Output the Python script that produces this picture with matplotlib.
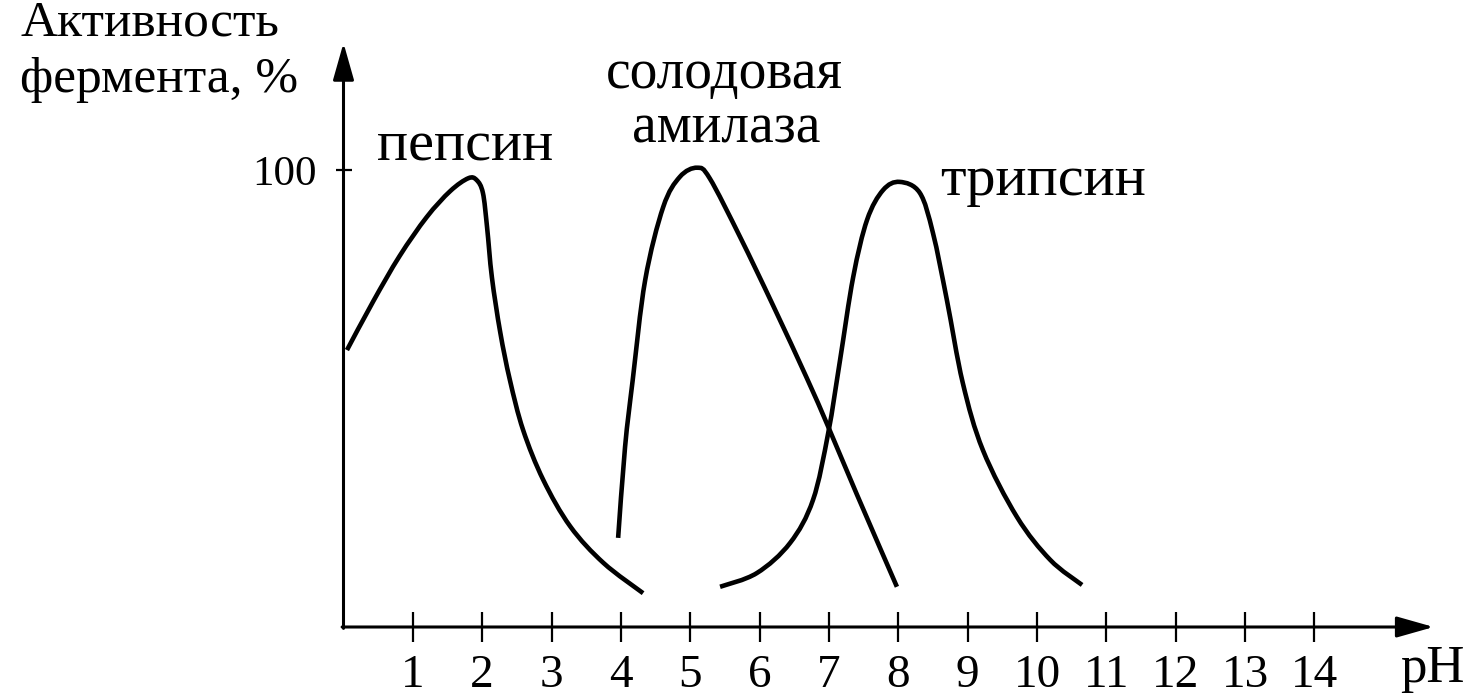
import matplotlib
matplotlib.use("Agg")
import matplotlib.pyplot as plt
from matplotlib.path import Path
from matplotlib.patches import PathPatch

plt.rcParams["font.family"] = ["Liberation Serif", "DejaVu Serif"]

# curve points: pH, activity %
pepsin_ph = [0.05, 0.43, 0.81, 1.20, 1.54, 1.80, 1.92, 2.01, 2.07, 2.14, 2.26,
             2.40, 2.59, 2.88, 3.27, 3.75, 4.32]
pepsin_act = [60.6, 71.3, 81.2, 89.7, 95.4, 98.2, 97.8, 95.0, 87.5, 76.5, 64.5,
              54.0, 43.1, 32.2, 22.0, 14.0, 7.4]

amylase_ph = [3.96, 4.06, 4.17, 4.35, 4.61, 4.85, 5.10, 5.28, 5.72, 6.19, 6.68,
              6.99, 7.40, 7.98]
amylase_act = [19.5, 39.4, 54.0, 75.9, 91.9, 98.5, 100.5, 98.2, 85.3, 70.5, 54.5,
               43.8, 29.1, 8.8]

trypsin_ph = [5.43, 5.96, 6.44, 6.77, 6.99, 7.16, 7.35, 7.55, 7.78, 8.02, 8.31,
              8.50, 8.70, 8.93, 9.22, 9.71, 10.19, 10.65]
trypsin_act = [8.8, 11.8, 18.4, 27.8, 42.5, 58.4, 76.6, 89.1, 95.6, 97.4, 95.0,
               86.2, 71.6, 53.4, 38.7, 24.1, 14.7, 9.2]

x_ticks = list(range(1, 15))
y_ticks = [100]


def smooth_path(xs, ys):
    # cubic Bezier pieces through the read points (Catmull-Rom handles)
    pts = list(zip(xs, ys))
    verts = [pts[0]]
    codes = [Path.MOVETO]
    n = len(pts)
    for i in range(n - 1):
        p0 = pts[max(i - 1, 0)]
        p1 = pts[i]
        p2 = pts[i + 1]
        p3 = pts[min(i + 2, n - 1)]
        c1 = (p1[0] + (p2[0] - p0[0]) / 6, p1[1] + (p2[1] - p0[1]) / 6)
        c2 = (p2[0] - (p3[0] - p1[0]) / 6, p2[1] - (p3[1] - p1[1]) / 6)
        verts += [c1, c2, p2]
        codes += [Path.CURVE4] * 3
    return Path(verts, codes)


fig = plt.figure(figsize=(14.74, 7.0), dpi=100)
ax = fig.add_axes([0, 0, 1, 1])
ax.set_xlim(-343.5 / 69.35, (1474 - 343.5) / 69.35)
ax.set_ylim(-(700 - 627) / 4.57, 627 / 4.57)

for xs, ys in [(pepsin_ph, pepsin_act), (amylase_ph, amylase_act),
               (trypsin_ph, trypsin_act)]:
    ax.add_patch(PathPatch(smooth_path(xs, ys), fill=False, edgecolor="black",
                           lw=3.3, capstyle="butt", joinstyle="round"))

# axes drawn as arrows from the origin
for side in ["top", "right", "left", "bottom"]:
    ax.spines[side].set_visible(False)
ax.spines["left"].set_position(("data", 0))
ax.spines["bottom"].set_position(("data", 0))

arrow = dict(arrowstyle="-|>,head_length=0.6,head_width=0.17", color="black",
             lw=2.2, mutation_scale=38, shrinkA=0, shrinkB=0)
ax.annotate("", xy=(0, 127.8), xytext=(0, -0.3), arrowprops=arrow)
ax.annotate("", xy=(15.72, 0), xytext=(-0.02, 0), arrowprops=arrow)

ax.set_xticks(x_ticks)
ax.set_xticklabels([str(t) for t in x_ticks], fontsize=34)
ax.set_yticks(y_ticks)
ax.set_yticklabels([str(t) for t in y_ticks], fontsize=31)
ax.tick_params(axis="x", direction="inout", length=22, width=1.6, pad=9)
ax.tick_params(axis="y", direction="inout", length=12, width=1.6, pad=13)

# labels
ax.text(1.75, 102, "пепсин", fontsize=42, ha="center", va="baseline")
ax.text(5.49, 117.9, "солодовая", fontsize=40, ha="center", va="baseline")
ax.text(5.52, 106, "амилаза", fontsize=40, ha="center", va="baseline")
ax.text(8.60, 94.5, "трипсин", fontsize=42, ha="left", va="baseline")
ax.text(-4.66, 129.5, "Активность", fontsize=37, ha="left", va="baseline")
ax.text(-4.66, 117.0, "фермента, %", fontsize=37, ha="left", va="baseline")
ax.text(15.23, -12, "pH", fontsize=38, ha="left", va="baseline")

fig.savefig("out.png", dpi=100, facecolor="white")
